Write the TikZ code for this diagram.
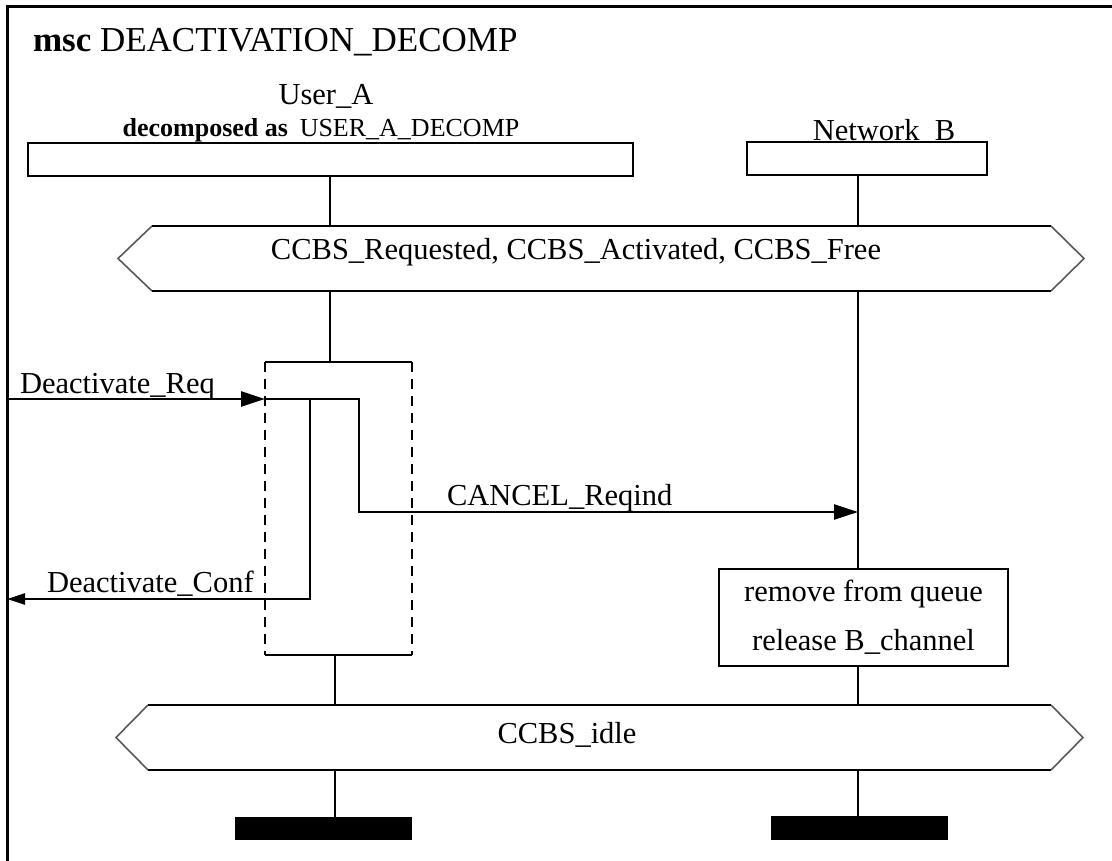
\documentclass[tikz,border=0pt]{standalone}
\usepackage{fontspec}
\setmainfont{Liberation Serif}
\usetikzlibrary{arrows.meta}
\begin{document}
\begin{tikzpicture}[x=1pt,y=-1pt,
  every node/.style={inner sep=0pt, outer sep=0pt},
  txt/.style={font=\fontsize{30.5}{36}\selectfont},
  life/.style={line width=2.7pt},
  box/.style={draw, line width=2.7pt, fill=white},
  msg/.style={line width=2.7pt, line join=miter, -{Triangle[length=24pt,width=15pt]}},
  msgsmall/.style={line width=2.7pt, line join=miter, -{Triangle[length=18pt,width=11pt]}},
  condedge/.style={line width=1.6pt, draw=black!65},
  dashside/.style={line width=2pt, dash pattern=on 10pt off 7pt},
  endbar/.style={fill=black, draw=none}]
\useasboundingbox (0,0) rectangle (1112,861);
\fill[white] (0,0) rectangle (1112,861);
% frame
\draw[line width=3pt, line join=miter] (7,861) -- (7,7) -- (1112,7);
\node[anchor=base west, font=\fontsize{35}{40}\selectfont] (title) at (33,52) {\textbf{msc} DEACTIVATION\_DECOMP};
% x positions of lifelines
\coordinate (xA) at (330,0);
\coordinate (xA2) at (335,0);
\coordinate (xB) at (858,0);
% instance heads
\node[txt, anchor=base] (uaName) at (326,105) {User\_A};
\node[anchor=base, font=\fontsize{26}{30}\selectfont] (uaDec) at (321,137) {\textbf{decomposed as}\hspace{0.45em}USER\_A\_DECOMP};
\node[box, minimum width=605pt, minimum height=33pt] (ua) at (330.5,159.5) {};
\node[txt, anchor=base] (nbName) at (884,140.5) {Network\_B};
\node[box, minimum width=240pt, minimum height=33pt] (nb) at (867,158.5) {};
% condition 1
\node[minimum width=899pt, minimum height=65pt] (c1) at (601.5,258.5) {};
\draw[condedge] (c1.north west) -- ++(-34,32.5) -- (c1.south west);
\draw[condedge] (c1.north east) -- ++(33,32.5) -- (c1.south east);
\draw[life] (c1.north west) -- (c1.north east);
\draw[life] (c1.south west) -- (c1.south east);
\node[txt, anchor=base] (c1t) at (576,260) {CCBS\_Requested, CCBS\_Activated, CCBS\_Free};
% inline decomposition area
\node[minimum width=147pt, minimum height=293pt] (inl) at (338.5,508.5) {};
\draw[life] (inl.north west) -- (inl.north east);
\draw[life] (inl.south west) -- (inl.south east);
\draw[dashside] (inl.north west) -- (inl.south west);
\draw[dashside] (inl.north east) -- (inl.south east);
% action
\node[box, minimum width=289pt, minimum height=97pt, align=center, font=\fontsize{30.5}{49}\selectfont] (act) at (863.5,617.5) {remove from queue\\release B\_channel};
% condition 2
\node[minimum width=903pt, minimum height=65pt] (c2) at (599.5,737.5) {};
\draw[condedge] (c2.north west) -- ++(-32,32.5) -- (c2.south west);
\draw[condedge] (c2.north east) -- ++(32,32.5) -- (c2.south east);
\draw[life] (c2.north west) -- (c2.north east);
\draw[life] (c2.south west) -- (c2.south east);
\node[txt, anchor=base] (c2t) at (567,743) {CCBS\_idle};
% end bars
\node[endbar, minimum width=177pt, minimum height=23pt] (endA) at (323.5,828.5) {};
\node[endbar, minimum width=177pt, minimum height=24pt] (endB) at (859.5,828) {};
% lifelines
\draw[life] (ua.south -| xA) -- (c1.north -| xA);
\draw[life] (c1.south -| xA) -- (inl.north -| xA);
\draw[life] (inl.south -| xA2) -- (c2.north -| xA2);
\draw[life] (c2.south -| xA2) -- (endA.north -| xA2);
\draw[life] (nb.south -| xB) -- (c1.north -| xB);
\draw[life] (c1.south -| xB) -- (act.north -| xB);
\draw[life] (act.south -| xB) -- (c2.north -| xB);
\draw[life] (c2.south -| xB) -- (endB.north -| xB);
% messages
\coordinate (envReq) at (7,399);
\coordinate (envConf) at (7,599);
\coordinate (turn1) at (359,512);
\coordinate (turn2) at (310,599);
\draw[msg] (envReq) -- (inl.west |- envReq);
\node[txt, anchor=base west] (lReq) at (20,393) {Deactivate\_Req};
\draw[msg] (inl.west |- envReq) -| (turn1) -- (turn1 -| xB);
\node[txt, anchor=base west] (lCan) at (447,505) {CANCEL\_Reqind};
\draw[msgsmall] (turn2 |- envReq) -- (turn2) -- (envConf);
\node[txt, anchor=base west] (lConf) at (47,592) {Deactivate\_Conf};
\end{tikzpicture}
\end{document}
